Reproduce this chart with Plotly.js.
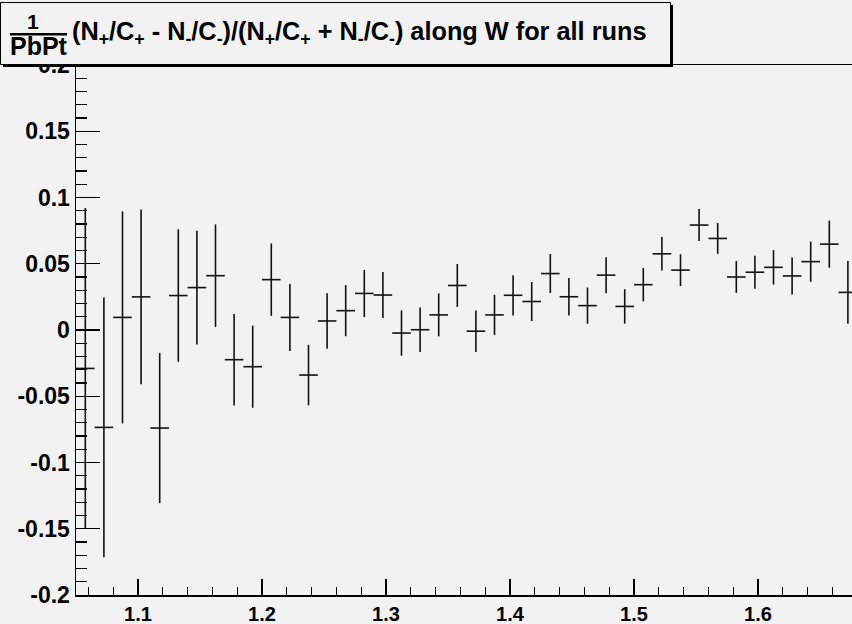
<!DOCTYPE html>
<html>
<head>
<meta charset="utf-8">
<script src="https://cdn.plot.ly/plotly-3.0.1.min.js"></script>
<style>
html,body{margin:0;padding:0;background:#f2f2f2;}
#chart{width:852px;height:624px;}
</style>
</head>
<body>
<div id="chart"></div>
<script>
// Bin centres along W
var wCenters = [1.0575, 1.0725, 1.0875, 1.1025, 1.1175, 1.1325, 1.1475, 1.1625, 1.1775, 1.1925,
                1.2075, 1.2225, 1.2375, 1.2525, 1.2675, 1.2825, 1.2975, 1.3125, 1.3275, 1.3425,
                1.3575, 1.3725, 1.3875, 1.4025, 1.4175, 1.4325, 1.4475, 1.4625, 1.4775, 1.4925,
                1.5075, 1.5225, 1.5375, 1.5525, 1.5675, 1.5825, 1.5975, 1.6125, 1.6275, 1.6425,
                1.6575, 1.6725];
// Asymmetry values
var asymValues = [-0.029, -0.0735, 0.0095, 0.025, -0.074, 0.026, 0.032, 0.041, -0.0224, -0.0277,
                  0.038, 0.0095, -0.034, 0.0068, 0.0146, 0.0276, 0.0264, -0.0023, 0.0002, 0.0114,
                  0.0336, -0.0009, 0.0114, 0.0262, 0.0215, 0.0426, 0.0251, 0.0184, 0.0414, 0.0178,
                  0.0342, 0.0575, 0.0452, 0.0792, 0.0691, 0.040, 0.0436, 0.0473, 0.0408, 0.0516,
                  0.0648, 0.0284];
// Statistical errors
var asymErrors = [0.121, 0.098, 0.080, 0.066, 0.0566, 0.050, 0.043, 0.0387, 0.0345, 0.031,
                  0.0273, 0.0253, 0.0228, 0.0209, 0.0193, 0.0178, 0.0173, 0.0171, 0.0168, 0.0162,
                  0.0162, 0.0157, 0.0152, 0.0152, 0.0147, 0.0147, 0.0141, 0.0137, 0.0136, 0.013,
                  0.0126, 0.0126, 0.012, 0.0121, 0.0116, 0.012, 0.0124, 0.013, 0.014, 0.0152,
                  0.0178, 0.0236];
// Half bin width
var binHalfWidth = [0.0075];

var xTickVals = [1.1, 1.2, 1.3, 1.4, 1.5, 1.6];
var xTickText = ['1.1', '1.2', '1.3', '1.4', '1.5', '1.6'];
var yTickVals = [-0.2, -0.15, -0.1, -0.05, 0, 0.05, 0.1, 0.15, 0.2];
var yTickText = ['-0.2', '-0.15', '-0.1', '-0.05', '0', '0.05', '0.1', '0.15', '0.2'];

var titleMain = '(N<sub>+</sub>/C<sub>+</sub> - N<sub>-</sub>/C<sub>-</sub>)/(N<sub>+</sub>/C<sub>+</sub> + N<sub>-</sub>/C<sub>-</sub>) along W for all runs';
var titleNum = '1';
var titleDen = 'PbPt';

// layout geometry (pixels)
var W = 852, H = 624;
var mL = 76, mR = 0, mT = 65, mB = 29;
var pw = W - mL - mR, ph = H - mT - mB;
function px(x) { return (x - mL) / pw; }
function py(y) { return (H - mB - y) / ph; }

var FONT = 'Liberation Sans, Arial, Helvetica, sans-serif';

var trace = {
  type: 'scatter',
  mode: 'markers',
  x: wCenters,
  y: asymValues,
  marker: {size: 1, color: 'rgba(0,0,0,0)'},
  error_y: {type: 'data', array: asymErrors, visible: true, color: '#111', thickness: 1.6, width: 0},
  error_x: {type: 'constant', value: binHalfWidth[0], visible: true, color: '#111', thickness: 1.6, width: 0},
  cliponaxis: true,
  hoverinfo: 'x+y'
};

var layout = {
  width: W, height: H,
  paper_bgcolor: '#f2f2f2',
  plot_bgcolor: '#f2f2f2',
  margin: {l: mL, r: mR, t: mT, b: mB, pad: 0},
  showlegend: false,
  xaxis: {
    range: [1.05, 1.05 + pw / 1240],
    tickmode: 'array', tickvals: xTickVals, ticktext: xTickText,
    ticks: 'inside', ticklen: 16, tickwidth: 1.2, tickcolor: '#000',
    minor: {dtick: 0.02, tick0: 1.0, ticks: 'inside', ticklen: 8, tickwidth: 1.2, tickcolor: '#000', showgrid: false},
    showline: true, linecolor: '#000', linewidth: 1.5, mirror: true,
    showgrid: false, zeroline: false,
    tickfont: {family: FONT, size: 20, color: '#000', weight: 700},
    ticklabelstandoff: 0
  },
  yaxis: {
    range: [-0.2, 0.2],
    tickmode: 'array', tickvals: yTickVals, ticktext: yTickText,
    ticks: 'inside', ticklen: 24, tickwidth: 1.2, tickcolor: '#000',
    minor: {dtick: 0.01, tick0: 0, ticks: 'inside', ticklen: 11, tickwidth: 1.2, tickcolor: '#000', showgrid: false},
    showline: true, linecolor: '#000', linewidth: 1.5, mirror: false,
    showgrid: false, zeroline: false,
    tickfont: {family: FONT, size: 23, color: '#000', weight: 700},
    ticklabelstandoff: 0
  },
  shapes: [
    // title box shadow
    {type: 'rect', xref: 'paper', yref: 'paper', layer: 'above',
     x0: px(3), x1: px(673), y0: py(5), y1: py(67),
     fillcolor: '#000', line: {width: 0}},
    // title box
    {type: 'rect', xref: 'paper', yref: 'paper', layer: 'above',
     x0: px(0.5), x1: px(670.5), y0: py(2.5), y1: py(64.5),
     fillcolor: '#f2f2f2', line: {color: '#000', width: 1}},
    // fraction bar
    {type: 'line', xref: 'paper', yref: 'paper', layer: 'above',
     x0: px(10), x1: px(67), y0: py(34.3), y1: py(34.3),
     line: {color: '#000', width: 2.5}}
  ],
  annotations: [
    {xref: 'paper', yref: 'paper', x: px(33), y: py(22), xanchor: 'center', yanchor: 'middle',
     text: titleNum, showarrow: false, font: {family: FONT, size: 21, color: '#000', weight: 700}},
    {xref: 'paper', yref: 'paper', x: px(38.5), y: py(46.5), xanchor: 'center', yanchor: 'middle',
     text: titleDen, showarrow: false, font: {family: FONT, size: 25, color: '#000', weight: 700}},
    {xref: 'paper', yref: 'paper', x: px(70), y: py(33), xanchor: 'left', yanchor: 'middle',
     text: titleMain, showarrow: false, font: {family: FONT, size: 25.3, color: '#000', weight: 700}}
  ]
};

Plotly.newPlot('chart', [trace], layout, {staticPlot: true, displayModeBar: false});
</script>
</body>
</html>
